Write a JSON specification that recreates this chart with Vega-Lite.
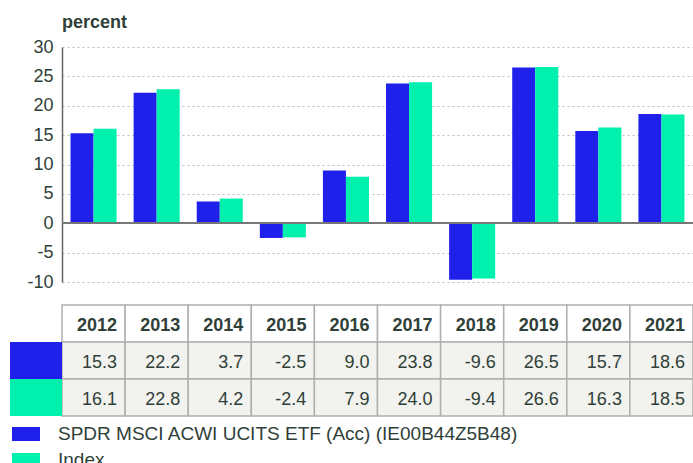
{
  "$schema": "https://vega.github.io/schema/vega-lite/v6.json",
  "padding": {"left": 10, "top": 14, "right": 0, "bottom": 0},
  "background": "white",
  "config": {
    "font": "Liberation Sans",
    "view": {"stroke": null},
    "concat": {"spacing": 13},
    "locale": {"number": {"decimal": ".", "thousands": ",", "grouping": [3], "currency": ["$", ""], "minus": "-"}}
  },
  "datasets": {
    "returns": [
      {"year": "2012", "series": "SPDR MSCI ACWI UCITS ETF (Acc) (IE00B44Z5B48)", "value": 15.3},
      {"year": "2012", "series": "Index", "value": 16.1},
      {"year": "2013", "series": "SPDR MSCI ACWI UCITS ETF (Acc) (IE00B44Z5B48)", "value": 22.2},
      {"year": "2013", "series": "Index", "value": 22.8},
      {"year": "2014", "series": "SPDR MSCI ACWI UCITS ETF (Acc) (IE00B44Z5B48)", "value": 3.7},
      {"year": "2014", "series": "Index", "value": 4.2},
      {"year": "2015", "series": "SPDR MSCI ACWI UCITS ETF (Acc) (IE00B44Z5B48)", "value": -2.5},
      {"year": "2015", "series": "Index", "value": -2.4},
      {"year": "2016", "series": "SPDR MSCI ACWI UCITS ETF (Acc) (IE00B44Z5B48)", "value": 9.0},
      {"year": "2016", "series": "Index", "value": 7.9},
      {"year": "2017", "series": "SPDR MSCI ACWI UCITS ETF (Acc) (IE00B44Z5B48)", "value": 23.8},
      {"year": "2017", "series": "Index", "value": 24.0},
      {"year": "2018", "series": "SPDR MSCI ACWI UCITS ETF (Acc) (IE00B44Z5B48)", "value": -9.6},
      {"year": "2018", "series": "Index", "value": -9.4},
      {"year": "2019", "series": "SPDR MSCI ACWI UCITS ETF (Acc) (IE00B44Z5B48)", "value": 26.5},
      {"year": "2019", "series": "Index", "value": 26.6},
      {"year": "2020", "series": "SPDR MSCI ACWI UCITS ETF (Acc) (IE00B44Z5B48)", "value": 15.7},
      {"year": "2020", "series": "Index", "value": 16.3},
      {"year": "2021", "series": "SPDR MSCI ACWI UCITS ETF (Acc) (IE00B44Z5B48)", "value": 18.6},
      {"year": "2021", "series": "Index", "value": 18.5}
    ]
  },
  "vconcat": [
    {
      "title": {"text": "percent", "anchor": "start", "frame": "group", "fontSize": 18, "fontWeight": "bold", "color": "#2f4038", "offset": 6},
      "width": 631,
      "height": 235,
      "data": {"name": "returns"},
      "layer": [
        {
          "mark": {"type": "bar"},
          "encoding": {
            "x": {"field": "year", "type": "nominal", "scale": {"paddingInner": 0, "paddingOuter": 0}, "axis": null},
            "xOffset": {"field": "series", "type": "nominal", "scale": {"domain": ["SPDR MSCI ACWI UCITS ETF (Acc) (IE00B44Z5B48)", "Index"], "paddingInner": 0, "paddingOuter": 0.37}},
            "y": {
              "field": "value", "type": "quantitative",
              "scale": {"domain": [-10, 30], "nice": false, "zero": false},
              "axis": {
                "values": [-10, -5, 0, 5, 10, 15, 20, 25, 30],
                "title": null, "grid": true, "gridDash": [2, 3], "gridColor": "#bbbbbb", "gridWidth": 1,
                "ticks": false, "labelPadding": 9, "labelFontSize": 18, "labelColor": "#2f4038", "labelOverlap": false,
                "domainColor": "#666666", "domainWidth": 1.5
              }
            },
            "color": {
              "field": "series", "type": "nominal",
              "scale": {"domain": ["SPDR MSCI ACWI UCITS ETF (Acc) (IE00B44Z5B48)", "Index"], "range": ["#1f20ea", "#00f0ae"]},
              "legend": {
                "orient": "none", "legendX": -50, "legendY": 377, "direction": "vertical", "title": null,
                "symbolType": "M-1,-0.5H1V0.5H-1Z", "symbolSize": 784, "symbolStrokeWidth": 0, "symbolOpacity": 1,
                "labelFontSize": 19, "labelColor": "#2f4038", "labelOffset": 18, "rowPadding": 6, "clipHeight": 20, "labelLimit": 700
              }
            }
          }
        },
        {
          "mark": {"type": "rule", "color": "#777777", "strokeWidth": 1.5},
          "encoding": {
            "y": {
              "datum": 0, "type": "quantitative",
              "axis": {
                "values": [-10, -5, 0, 5, 10, 15, 20, 25, 30],
                "title": null, "grid": true, "gridDash": [2, 3], "gridColor": "#bbbbbb", "gridWidth": 1,
                "ticks": false, "labelPadding": 9, "labelFontSize": 18, "labelColor": "#2f4038", "labelOverlap": false,
                "domainColor": "#666666", "domainWidth": 1.5
              }
            }
          }
        }
      ]
    },
    {
      "width": 631,
      "height": 111,
      "data": {"name": "returns"},
      "encoding": {
        "x": {"field": "year", "type": "nominal", "scale": {"paddingInner": 0, "paddingOuter": 0}, "axis": null}
      },
      "layer": [
        {
          "transform": [{"filter": "datum.series == 'Index'"}],
          "mark": {"type": "rect", "fill": "white", "stroke": "#b0b0b0", "strokeWidth": 1.5},
          "encoding": {
            "y": {"datum": "header", "type": "nominal", "scale": {"domain": ["header", "SPDR MSCI ACWI UCITS ETF (Acc) (IE00B44Z5B48)", "Index"], "paddingInner": 0, "paddingOuter": 0}, "axis": null}
          }
        },
        {
          "mark": {"type": "rect", "fill": "#f2f2ee", "stroke": "#b0b0b0", "strokeWidth": 1.5},
          "encoding": {
            "y": {"field": "series", "type": "nominal"}
          }
        },
        {
          "transform": [{"filter": "datum.year == '2012'"}],
          "mark": {"type": "rect", "xOffset": -52, "x2Offset": 0},
          "encoding": {
            "x": {"field": "year", "type": "nominal", "bandPosition": 0},
            "x2": {"field": "year", "bandPosition": 0},
            "y": {"field": "series", "type": "nominal"},
            "color": {"field": "series", "type": "nominal"}
          }
        },
        {
          "transform": [{"filter": "datum.series == 'Index'"}],
          "mark": {"type": "text", "align": "right", "baseline": "middle", "dx": -8, "dy": 2, "fontSize": 18, "fontWeight": "bold", "color": "#2f4038"},
          "encoding": {
            "x": {"field": "year", "type": "nominal", "bandPosition": 1},
            "y": {"datum": "header", "type": "nominal"},
            "text": {"field": "year"}
          }
        },
        {
          "mark": {"type": "text", "align": "right", "baseline": "middle", "dx": -8, "dy": 2, "fontSize": 18, "color": "#2f4038"},
          "encoding": {
            "x": {"field": "year", "type": "nominal", "bandPosition": 1},
            "y": {"field": "series", "type": "nominal"},
            "text": {"field": "value", "type": "quantitative", "format": ".1f"}
          }
        }
      ]
    }
  ],
  "resolve": {"scale": {"color": "shared"}, "legend": {"color": "shared"}}
}
